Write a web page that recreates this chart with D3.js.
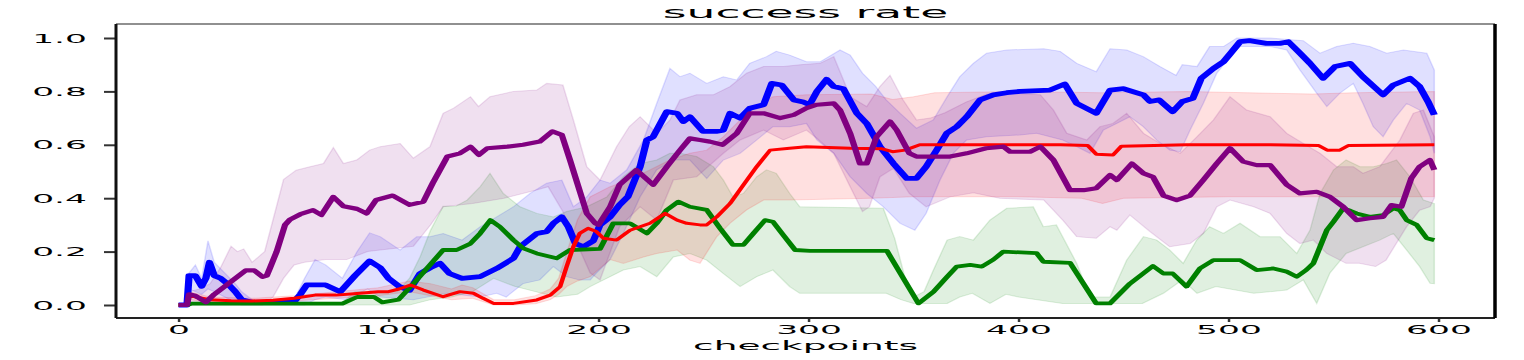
<!DOCTYPE html>
<html>
<head>
<meta charset="utf-8">
<script src="https://cdn.jsdelivr.net/npm/d3@7"></script>
<style>
  body { margin: 0; background: #fff; }
  svg { display: block; }
  text { font-family: "DejaVu Sans", sans-serif; fill: #000; }
</style>
</head>
<body>
<script>
// ---- data: [checkpoint, success rate] ----
const xTicks = [0, 100, 200, 300, 400, 500, 600];
const yTicks = [0, 0.2, 0.4, 0.6, 0.8, 1.0];

const blueMean = [[0,0],[4,0],[5,0.11],[8,0.11],[11,0.07],[13,0.1],[14.7,0.16],[17,0.11],[20,0.1],[24,0.075],[27,0.05],[30,0.02],[35,0.01],[45,0.01],[55,0.012],[58,0.04],[61,0.075],[70,0.075],[77,0.05],[84,0.11],[91,0.165],[96,0.14],[100,0.1],[105,0.07],[110,0.055],[115,0.118],[120,0.14],[124.5,0.156],[129,0.118],[135,0.1],[143.6,0.106],[151.5,0.137],[159.5,0.175],[162.6,0.218],[170.6,0.268],[175.3,0.275],[178.5,0.306],[182.5,0.33],[185.6,0.293],[189,0.23],[192.8,0.218],[197.5,0.24],[200.7,0.3],[205.5,0.33],[210,0.375],[214,0.406],[216.6,0.456],[219.8,0.518],[223,0.618],[226,0.63],[232.5,0.724],[237.4,0.718],[240.4,0.687],[243.5,0.705],[249.8,0.65],[256,0.65],[259.4,0.655],[262.6,0.718],[267.4,0.7],[272,0.737],[278.6,0.75],[282.5,0.83],[287.2,0.824],[293,0.768],[297.5,0.76],[300.5,0.75],[304,0.8],[308.6,0.845],[312,0.818],[316.6,0.81],[323,0.718],[327.7,0.68],[334,0.593],[340.4,0.53],[346.8,0.474],[351.4,0.474],[356,0.518],[361,0.58],[365.8,0.643],[370.6,0.668],[375.3,0.705],[381.7,0.768],[388,0.787],[394.4,0.795],[400.7,0.8],[415,0.805],[422,0.828],[427.7,0.755],[437,0.718],[443.6,0.805],[450,0.81],[459.5,0.787],[462.6,0.762],[467,0.768],[473.4,0.724],[478,0.762],[483,0.774],[487,0.849],[492.8,0.886],[497.6,0.911],[500.7,0.94],[505.5,0.986],[510,0.99],[518,0.98],[524.5,0.98],[528.5,0.986],[534,0.943],[538.8,0.905],[545,0.849],[550.7,0.893],[557.9,0.905],[564,0.855],[573.6,0.787],[578.5,0.824],[586.4,0.849],[591,0.818],[595,0.762],[598,0.712]];
const blueUpper = [[0,0],[4,0],[5,0.12],[8,0.15],[11,0.1],[14,0.24],[17,0.16],[22,0.12],[27,0.08],[30,0.05],[35,0.02],[55,0.02],[60,0.1],[65,0.17],[70,0.15],[78,0.1],[85,0.2],[91,0.27],[96,0.256],[105.5,0.206],[113.4,0.256],[119.7,0.256],[126,0.268],[135,0.243],[143.6,0.293],[151.5,0.33],[159.5,0.368],[167.4,0.418],[175.3,0.456],[182.5,0.468],[188,0.368],[194.4,0.405],[200.7,0.468],[205.5,0.456],[213.4,0.506],[221.4,0.618],[227.7,0.755],[234,0.886],[238.8,0.855],[243.5,0.868],[251.5,0.83],[259.4,0.855],[265.8,0.843],[272,0.905],[280,0.93],[284.6,0.95],[291,0.936],[299,0.911],[305.5,0.911],[315,0.955],[319.8,0.936],[325.7,0.868],[332,0.818],[337,0.768],[343.6,0.718],[351.4,0.662],[359.4,0.693],[366,0.78],[372,0.855],[378.5,0.905],[384.8,0.943],[394.4,0.955],[412,0.96],[419.8,0.95],[427.7,0.905],[437,0.874],[443.6,0.96],[451.5,0.955],[459.4,0.93],[467.4,0.893],[475,0.86],[478,0.9],[485,0.893],[491,0.968],[497.6,0.968],[504,1.0],[519.8,1.0],[535.6,0.99],[543.6,0.943],[551.5,0.968],[559.4,0.98],[567.3,0.968],[575.3,0.943],[583.3,0.955],[594.4,0.943],[598,0.88]];
const blueLower = [[0,0],[4,0],[5,0.06],[8,0.05],[11,0.04],[14,0.06],[17,0.05],[22,0.03],[27,0.01],[30,0],[60,0],[65,0.02],[70,0.03],[80,0.02],[90,0.06],[96,0.03],[111.8,0.02],[127.7,0.044],[143.6,0.03],[151.5,0.044],[156,0.03],[164,0.08],[172,0.094],[178.5,0.144],[184.8,0.106],[191,0.094],[196,0.094],[199,0.12],[205.5,0.17],[211.8,0.268],[219.8,0.405],[227.7,0.506],[235.6,0.543],[243.5,0.543],[251.5,0.474],[259.4,0.543],[267.4,0.568],[275.3,0.618],[283,0.668],[291,0.668],[299,0.68],[304,0.618],[312,0.568],[319.8,0.48],[327.7,0.418],[335.6,0.368],[343.6,0.306],[350.6,0.28],[356,0.343],[362.6,0.468],[369,0.568],[375.3,0.618],[384.8,0.63],[400.7,0.637],[408.6,0.643],[421,0.618],[427.7,0.593],[434,0.568],[440.4,0.655],[446.8,0.68],[453,0.705],[459.4,0.668],[465.8,0.618],[472,0.58],[477,0.574],[481.7,0.655],[488,0.755],[494.4,0.868],[500.7,0.93],[505.5,0.968],[519.8,0.968],[527.7,0.955],[534,0.88],[542,0.793],[546.8,0.743],[553,0.793],[559.4,0.83],[564,0.755],[568.9,0.668],[573.6,0.63],[578.5,0.693],[584.8,0.755],[591,0.73],[596,0.63],[598,0.568]];

const redMean = [[0,0],[4,0],[5,0.037],[8,0.03],[15,0.02],[25,0.016],[35,0.015],[45,0.018],[55,0.025],[65,0.037],[75,0.037],[85,0.043],[95,0.05],[100,0.05],[105,0.06],[110.4,0.075],[116.6,0.056],[126,0.031],[134,0.05],[140.4,0.044],[145,0.025],[150,0.006],[159.5,0.006],[170.6,0.019],[177,0.037],[181.7,0.069],[184.8,0.144],[188,0.218],[191,0.268],[195,0.287],[199,0.275],[202.3,0.25],[208.6,0.243],[215,0.28],[224.5,0.306],[231.7,0.343],[237.4,0.318],[242,0.306],[248.3,0.3],[251.5,0.3],[256.3,0.33],[262.6,0.38],[269,0.45],[275.3,0.518],[281.7,0.58],[291,0.587],[299,0.593],[320,0.587],[335,0.585],[340,0.574],[346,0.58],[353,0.6],[380,0.6],[420,0.6],[433,0.597],[437,0.565],[445,0.562],[449,0.595],[480,0.6],[520,0.6],[543,0.597],[547,0.58],[553,0.58],[557,0.597],[598,0.6]];
const redUpper = [[0,0],[4,0],[5,0.05],[15,0.03],[35,0.025],[55,0.035],[75,0.05],[95,0.065],[110,0.09],[120,0.08],[130,0.06],[135,0.075],[140,0.065],[150,0.02],[160,0.02],[170,0.035],[177,0.06],[181,0.1],[185,0.2],[190,0.32],[196,0.405],[205.5,0.443],[214.6,0.468],[224.5,0.506],[234,0.543],[243.5,0.568],[251.5,0.58],[259.4,0.63],[267.4,0.693],[275.3,0.743],[283,0.78],[299,0.787],[330,0.79],[340,0.77],[350,0.78],[360,0.795],[400,0.8],[440,0.795],[480,0.8],[540,0.79],[560,0.795],[598,0.8]];
const redLower = [[0,0],[4,0],[5,0.02],[15,0.01],[35,0.005],[55,0.015],[75,0.025],[95,0.035],[110,0.05],[120,0.035],[130,0.02],[140,0.025],[150,0],[160,0],[170,0.005],[177,0.02],[181,0.04],[185,0.07],[190,0.09],[196,0.106],[205.5,0.17],[211.8,0.156],[221.4,0.18],[227.7,0.193],[237.4,0.206],[243.5,0.168],[248.3,0.156],[256.3,0.256],[262.6,0.306],[270.5,0.356],[278.6,0.393],[291,0.393],[330,0.4],[350,0.405],[400,0.405],[430,0.4],[440,0.38],[450,0.4],[500,0.405],[598,0.405]];

const greenMean = [[0,0],[4,0],[6,0.005],[60,0.005],[78,0.005],[85,0.03],[93,0.03],[97,0.01],[104.7,0.02],[111.8,0.08],[119.7,0.15],[126,0.206],[132.4,0.206],[139,0.23],[143.6,0.268],[148.5,0.318],[153,0.293],[159.5,0.243],[164.2,0.212],[170.6,0.193],[180,0.175],[186.4,0.206],[200.7,0.21],[207,0.306],[215,0.306],[223,0.268],[227.7,0.306],[232.5,0.356],[238,0.387],[243.5,0.368],[251.5,0.356],[257.9,0.287],[264,0.225],[269,0.225],[273.7,0.268],[279.3,0.318],[283,0.312],[288,0.262],[293.6,0.206],[300.7,0.203],[337.3,0.203],[352.3,0.006],[359.5,0.05],[366,0.106],[370.6,0.144],[377,0.15],[382.5,0.144],[388,0.17],[392.8,0.2],[408.6,0.194],[411.8,0.162],[424.5,0.158],[437,0.006],[443.6,0.006],[453,0.08],[464,0.146],[469,0.118],[473.4,0.118],[480,0.069],[486.4,0.137],[492.8,0.168],[505.5,0.168],[513.4,0.131],[521.4,0.137],[527.7,0.125],[532.5,0.106],[537,0.131],[540.4,0.156],[543.6,0.218],[546.8,0.28],[550,0.312],[554.6,0.362],[558,0.353],[561,0.343],[567.3,0.33],[573.6,0.337],[578.5,0.362],[581.6,0.355],[584.8,0.318],[589.6,0.3],[594.4,0.25],[598,0.243]];
const greenUpper = [[0,0],[4,0],[6,0.01],[78,0.01],[84,0.05],[95,0.05],[104,0.05],[110,0.1],[115,0.18],[120,0.28],[126,0.37],[132,0.37],[137.4,0.393],[143.6,0.443],[148.3,0.493],[154.6,0.418],[162.6,0.368],[170.6,0.343],[178.5,0.33],[184.8,0.35],[194.4,0.368],[204,0.405],[211.8,0.48],[219.8,0.53],[227.7,0.543],[234,0.568],[238.8,0.568],[246.7,0.556],[254.7,0.518],[259.4,0.468],[264,0.405],[269,0.418],[275.3,0.48],[280,0.506],[284.6,0.493],[291,0.418],[295.8,0.368],[335.6,0.362],[341,0.25],[346,0.1],[350,0.03],[355,0.05],[359.4,0.13],[366,0.243],[372,0.256],[378.5,0.243],[386.4,0.318],[394.4,0.362],[407,0.368],[411.8,0.293],[418,0.3],[427.7,0.156],[434,0.03],[443.6,0.03],[451.5,0.168],[459.5,0.256],[465.8,0.243],[472,0.206],[478.4,0.156],[484.8,0.243],[491,0.293],[497.6,0.268],[505.5,0.306],[515,0.256],[524.5,0.256],[532.5,0.193],[538.8,0.28],[543.6,0.418],[550,0.506],[556,0.543],[562.6,0.518],[569,0.518],[575.3,0.53],[580,0.543],[586.4,0.48],[592.8,0.393],[598,0.38]];
const greenLower = [[0,0],[110,0],[120,0.02],[130,0.03],[140,0.05],[150,0.1],[160,0.07],[170,0.05],[180,0.03],[190,0.04],[196,0.069],[205.5,0.106],[211.8,0.131],[219.8,0.144],[227.7,0.106],[235.6,0.18],[243.5,0.193],[251.5,0.168],[259.4,0.118],[267.4,0.069],[275.3,0.106],[283,0.131],[291,0.069],[295.8,0.044],[337,0.044],[344,0.02],[350,0.006],[366,0.006],[372,0.03],[378,0.044],[386.4,0.006],[394,0.04],[400,0.03],[421,0.006],[459,0.006],[469,0.044],[478,0.094],[485,0.044],[494,0.069],[512,0.044],[527.7,0.056],[535.6,0.094],[542,0.006],[548.3,0.12],[556,0.193],[564,0.218],[572,0.243],[578.5,0.268],[584.8,0.206],[591,0.144],[596,0.081],[598,0.08]];

const purpleMean = [[0,0],[4,0],[5,0.04],[8,0.035],[13,0.01],[17,0.04],[22,0.07],[27,0.1],[32,0.13],[36,0.13],[40,0.105],[42,0.11],[43.6,0.14],[46.7,0.2],[50.7,0.3],[53,0.32],[58,0.34],[64,0.355],[68,0.337],[73.7,0.405],[78.5,0.37],[85,0.36],[89.6,0.343],[94,0.393],[102,0.41],[110,0.375],[116.6,0.387],[121,0.456],[128,0.556],[134,0.568],[139,0.593],[143,0.562],[147,0.587],[156.6,0.593],[164,0.6],[172,0.612],[178,0.65],[182.5,0.637],[186.4,0.543],[190.4,0.443],[194.4,0.343],[198.4,0.306],[200,0.3],[205.5,0.368],[210,0.45],[218,0.506],[226,0.45],[232.5,0.518],[238.8,0.58],[243.5,0.624],[248.3,0.618],[253,0.612],[259,0.6],[265.8,0.643],[272,0.718],[278.6,0.718],[286.5,0.7],[293,0.712],[299,0.737],[304,0.75],[312,0.755],[315,0.73],[319.8,0.643],[324.5,0.53],[327.7,0.53],[332.4,0.63],[338.8,0.687],[342,0.655],[348,0.568],[351.4,0.556],[367.4,0.556],[375.3,0.568],[384.6,0.587],[392.8,0.593],[396,0.574],[405.5,0.574],[410.4,0.593],[416.6,0.543],[424.5,0.43],[431,0.43],[437,0.437],[443.6,0.487],[446.8,0.468],[454,0.53],[459.5,0.493],[464,0.48],[469,0.41],[475.3,0.393],[481.7,0.41],[488,0.468],[494.4,0.53],[500.7,0.587],[507,0.537],[513.4,0.524],[519.8,0.524],[527.7,0.45],[534,0.418],[542,0.424],[548.3,0.405],[554.6,0.368],[561,0.318],[567.3,0.325],[573.6,0.33],[577.6,0.374],[582.3,0.368],[587,0.474],[591,0.518],[595.9,0.543],[598,0.506]];
const purpleUpper = [[0,0],[4,0],[5,0.05],[10,0.06],[15,0.08],[20,0.14],[25,0.22],[28,0.2],[31,0.21],[35,0.16],[38,0.18],[41,0.2],[45,0.32],[50,0.47],[56,0.505],[62.6,0.518],[69,0.53],[73.7,0.59],[78.5,0.53],[84.8,0.543],[91,0.58],[96,0.593],[105.5,0.605],[111.8,0.55],[119.7,0.593],[126,0.718],[131,0.737],[139,0.78],[142.8,0.743],[148.3,0.78],[159.5,0.8],[170.6,0.805],[175.3,0.83],[183,0.824],[188,0.693],[194.4,0.518],[200.7,0.468],[208.6,0.593],[214.6,0.668],[219.8,0.705],[227.7,0.643],[234,0.693],[238.8,0.768],[246.7,0.787],[254.7,0.787],[262.6,0.818],[270.5,0.868],[278.6,0.893],[288,0.893],[296,0.9],[305.5,0.905],[312,0.93],[316.6,0.843],[319.8,0.78],[327.7,0.743],[334,0.818],[338.8,0.86],[345,0.768],[351.4,0.693],[358,0.7],[365,0.72],[375,0.76],[385,0.79],[396,0.793],[410.4,0.787],[416.6,0.73],[423,0.643],[432.5,0.618],[438.8,0.668],[445,0.68],[451.5,0.718],[459.5,0.643],[467.4,0.605],[477,0.568],[485,0.63],[492.8,0.693],[500.7,0.78],[508.6,0.73],[519.8,0.705],[527.7,0.643],[535.6,0.605],[543.6,0.568],[551.5,0.518],[559.4,0.518],[564,0.493],[572,0.518],[581.6,0.618],[588,0.718],[592.8,0.73],[598,0.63]];
const purpleLower = [[0,0],[40,0],[45,0.03],[50,0.1],[55,0.15],[60,0.16],[70,0.17],[80,0.17],[90,0.2],[96,0.206],[111.8,0.22],[120,0.3],[126,0.368],[140,0.38],[155,0.4],[170,0.43],[176,0.443],[183,0.35],[189,0.243],[196,0.12],[200.7,0.094],[210,0.293],[219.8,0.368],[227.7,0.318],[235.6,0.468],[246.7,0.48],[259.4,0.568],[267.4,0.618],[278.6,0.655],[288,0.618],[299,0.655],[304,0.624],[312,0.568],[319.8,0.443],[325.7,0.35],[329,0.368],[334,0.48],[340.4,0.512],[348,0.418],[356,0.368],[367.4,0.405],[378.5,0.42],[391,0.4],[412,0.393],[421,0.318],[427.7,0.256],[437,0.25],[443.6,0.293],[446.8,0.28],[453,0.337],[462.6,0.275],[472,0.218],[481.7,0.23],[488,0.268],[494.4,0.368],[500.7,0.393],[512,0.368],[519.8,0.343],[527.7,0.268],[534,0.23],[540.4,0.243],[546.8,0.193],[556,0.156],[562.3,0.156],[570,0.144],[575,0.168],[584.8,0.293],[591,0.355],[596,0.368],[598,0.4]];

// ---- layout ----
const W = 1524, H = 360;
const margin = { top: 24, right: 29, bottom: 42, left: 116 };
const width = W - margin.left - margin.right;
const height = H - margin.top - margin.bottom;
const SX = 1.5;   // horizontal stretch of strokes (picture is stretched sideways)
const TX = 3;     // horizontal stretch of text

const svg = d3.select("body").append("svg")
  .attr("width", W)
  .attr("height", H);

const xScale = d3.scaleLinear().domain([-29.8, 626.9]).range([0, width]);
const yScale = d3.scaleLinear().domain([-0.0487, 1.0524]).range([height, 0]);
// same x scale, but in the stretched coordinate system of the plot group
const xs = d3.scaleLinear().domain(xScale.domain()).range([0, width / SX]);

svg.append("defs").append("clipPath").attr("id", "clip")
  .append("rect").attr("x", 0).attr("y", 0).attr("width", width / SX).attr("height", height);

const plot = svg.append("g")
  .attr("transform", "translate(" + margin.left + "," + margin.top + ") scale(" + SX + ",1)")
  .attr("clip-path", "url(#clip)");

const series = [
  { mean: blueMean, upper: blueUpper, lower: blueLower, color: "blue", lw: 4.8 },
  { mean: greenMean, upper: greenUpper, lower: greenLower, color: "green", lw: 3.8 },
  { mean: redMean, upper: redUpper, lower: redLower, color: "red", lw: 3 },
  { mean: purpleMean, upper: purpleUpper, lower: purpleLower, color: "purple", lw: 4.2 }
];

const line = d3.line()
  .x(d => xs(d[0]))
  .y(d => yScale(d[1]));

// shaded bands
series.forEach(s => {
  const poly = s.upper.concat(s.lower.slice().reverse());
  plot.append("path")
    .attr("d", line(poly) + "Z")
    .attr("fill", s.color)
    .attr("fill-opacity", 0.12)
    .attr("stroke", s.color)
    .attr("stroke-opacity", 0.13)
    .attr("stroke-width", 1);
});

// mean lines
series.forEach(s => {
  plot.append("path")
    .attr("d", line(s.mean))
    .attr("fill", "none")
    .attr("stroke", s.color)
    .attr("stroke-width", s.lw)
    .attr("stroke-linejoin", "round")
    .attr("stroke-linecap", "butt");
});

// axes
const g = svg.append("g")
  .attr("transform", "translate(" + margin.left + "," + margin.top + ")");

const yAxis = g.append("g")
  .call(d3.axisLeft(yScale).tickValues(yTicks).tickSize(12).tickFormat(d3.format(".1f")));
yAxis.select(".domain").remove();
yAxis.selectAll(".tick line").attr("stroke", "#333").attr("stroke-width", 2);
yAxis.selectAll(".tick text")
  .attr("x", null).attr("dy", "0.36em")
  .attr("transform", "translate(-29,0) scale(" + TX + ",1)")
  .attr("font-size", 11.5)
  .attr("font-family", "DejaVu Sans")
  .attr("text-anchor", "end");

const xAxis = g.append("g")
  .attr("transform", "translate(0," + height + ")")
  .call(d3.axisBottom(xScale).tickValues(xTicks).tickSize(4).tickFormat(d3.format("d")));
xAxis.select(".domain").remove();
xAxis.selectAll(".tick line").attr("stroke", "#333").attr("stroke-width", 2.5);
xAxis.selectAll(".tick text")
  .attr("y", null).attr("dy", null)
  .attr("transform", "translate(0,16) scale(" + TX + ",1)")
  .attr("font-size", 11.5)
  .attr("font-family", "DejaVu Sans");

// spines
g.append("line").attr("x1", 0).attr("x2", width).attr("y1", 0).attr("y2", 0)
  .attr("stroke", "#222").attr("stroke-width", 1.2);
g.append("line").attr("x1", 0).attr("x2", width).attr("y1", height).attr("y2", height)
  .attr("stroke", "#222").attr("stroke-width", 1.8);
g.append("line").attr("x1", 0).attr("x2", 0).attr("y1", 0).attr("y2", height)
  .attr("stroke", "#111").attr("stroke-width", 3);
g.append("line").attr("x1", width).attr("x2", width).attr("y1", 0).attr("y2", height)
  .attr("stroke", "#000").attr("stroke-width", 3.5);

// title and x label
svg.append("text")
  .attr("transform", "translate(" + (margin.left + width / 2) + ",18) scale(2.85,1)")
  .attr("text-anchor", "middle")
  .attr("font-size", 16)
  .text("success rate");

svg.append("text")
  .attr("transform", "translate(" + (margin.left + width / 2) + ",350) scale(" + TX + ",1)")
  .attr("text-anchor", "middle")
  .attr("font-size", 12.5)
  .text("checkpoints");
</script>
</body>
</html>
